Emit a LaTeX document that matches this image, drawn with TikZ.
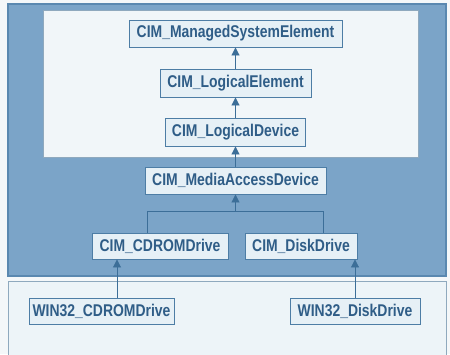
\documentclass[tikz,border=0pt]{standalone}
\usepackage{fontspec}
\setmainfont{Liberation Sans}
\newfontfamily\boxfont[FakeStretch=0.82]{Liberation Sans}
\usetikzlibrary{arrows.meta}
\definecolor{pagebg}{HTML}{F4F7F9}
\definecolor{bandblue}{HTML}{7BA4C8}
\definecolor{bandedge}{HTML}{5A88B0}
\definecolor{panelwhite}{HTML}{F1F6F9}
\definecolor{panelfill}{HTML}{EDF4F8}
\definecolor{paneledge}{HTML}{8FA9BE}
\definecolor{boxfill}{HTML}{E6F0F6}
\definecolor{boxedge}{HTML}{4D7DA5}
\definecolor{boxtext}{HTML}{2F5D87}
\definecolor{linkcol}{HTML}{3C6E98}
\tikzset{
  classbox/.style={draw=boxedge, fill=boxfill, line width=0.9pt, text=boxtext,
    font=\boxfont\fontsize{17}{19}\selectfont\bfseries, inner sep=0pt, anchor=center},
  link/.style={draw=linkcol, line width=0.9pt},
  inherit/.style={link, -{Triangle[width=8pt,length=8pt]}}
}
\begin{document}
\begin{tikzpicture}[x=1pt,y=-1pt]
\useasboundingbox (0,0) rectangle (450,354);
% page and panels
\fill[pagebg] (0,0) rectangle (450,354);
\draw[fill=bandblue, draw=bandedge, line width=1.2pt] (8,4) rectangle (446,276);
\draw[fill=panelwhite, draw=paneledge, line width=0.6pt] (43,10) rectangle (418,157);
\draw[fill=panelfill, draw=paneledge, line width=0.8pt] (8,281) rectangle (446,358);

% class boxes
\node[classbox, minimum width=213pt, minimum height=27pt] (mse) at (235.5,33.5) {CIM\_ManagedSystemElement};
\node[classbox, minimum width=151pt, minimum height=28pt] (le) at (235.5,83) {CIM\_LogicalElement};
\node[classbox, minimum width=140pt, minimum height=28pt] (ld) at (235.5,132) {CIM\_LogicalDevice};
\node[classbox, minimum width=181pt, minimum height=27pt] (mad) at (235.5,180.5) {CIM\_MediaAccessDevice};
\node[classbox, minimum width=136pt, minimum height=26pt] (cd) at (160,246) {CIM\_CDROMDrive};
\node[classbox, minimum width=112pt, minimum height=26pt] (dd) at (301,246) {CIM\_DiskDrive};
\node[classbox, minimum width=145pt, minimum height=26pt] (wcd) at (101.5,311) {WIN32\_CDROMDrive};
\node[classbox, minimum width=130pt, minimum height=26pt] (wdd) at (355,311) {WIN32\_DiskDrive};

% inheritance links
\draw[inherit] (le.north) -- (mse.south);
\draw[inherit] (ld.north) -- (le.south);
\draw[inherit] (mad.north) -- (ld.south);

\coordinate (jl) at (147,211);
\coordinate (jr) at (323,211);
\draw[link] (jl |- cd.north) -- (jl) -- (jr) -- (jr |- dd.north);
\draw[inherit] (jl -| mad.south) -- (mad.south);

\coordinate (cx) at (117,0);
\draw[inherit] (cx |- wcd.north) -- (cx |- cd.south);
\draw[inherit] (wdd.north) -- (wdd.north |- dd.south);
\end{tikzpicture}
\end{document}
